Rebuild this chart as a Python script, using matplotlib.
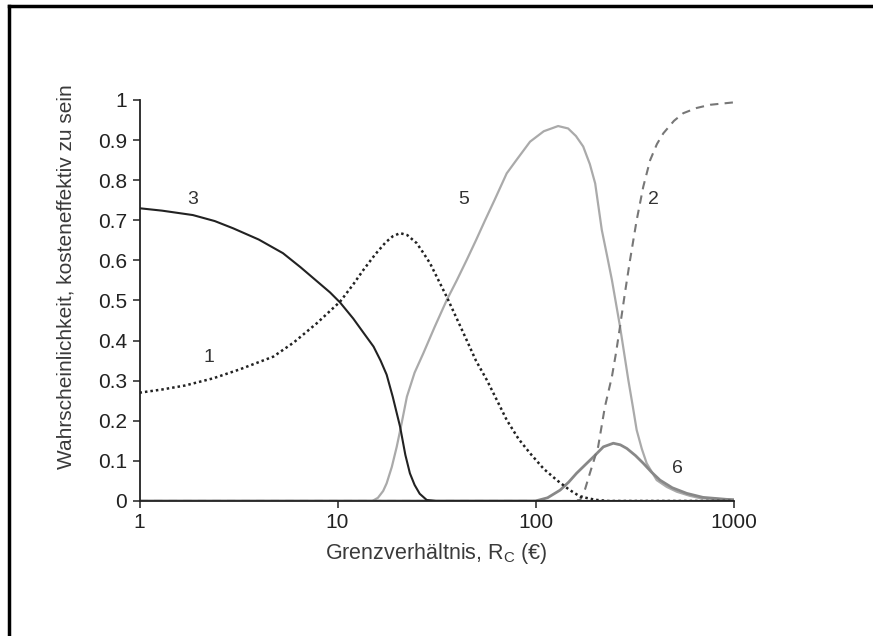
import numpy as np
import matplotlib.pyplot as plt

plt.rcParams['font.family'] = ['Liberation Sans', 'DejaVu Sans']

# curve 3 (black solid)
x3 = [1, 1.3, 1.86, 2.4, 2.97, 4, 5.3, 6.5, 8, 9.17, 10.3, 12, 13.5, 15.2, 16.5, 17.7,
      19, 20.7, 22, 23.2, 24.5, 26, 28.2, 31.4, 1000]
y3 = [0.73, 0.724, 0.713, 0.698, 0.68, 0.652, 0.618, 0.583, 0.545, 0.52, 0.495, 0.455, 0.42,
      0.385, 0.35, 0.315, 0.26, 0.185, 0.115, 0.069, 0.04, 0.018, 0.0025, 0, 0]

# curve 1 (black dotted)
x1 = [1, 1.3, 1.7, 2.36, 3.2, 4.74, 6, 7.85, 10.3, 12, 13.5, 15.5, 17.5, 19, 20.7, 22.5,
      25.1, 27, 29.3, 32, 35.6, 40, 44.9, 50, 56.7, 64, 71.5, 82, 93.8, 110, 128, 148,
      168, 200, 232, 1000]
y1 = [0.27, 0.278, 0.288, 0.306, 0.328, 0.36, 0.395, 0.443, 0.497, 0.54, 0.576, 0.615, 0.645,
      0.66, 0.668, 0.663, 0.643, 0.62, 0.593, 0.555, 0.509, 0.455, 0.401, 0.35, 0.302, 0.25,
      0.202, 0.155, 0.119, 0.08, 0.052, 0.028, 0.011, 0.003, 0, 0]

# curve 5 (light grey solid)
x5 = [1, 15, 16, 17, 17.7, 18.8, 19.9, 21, 22.4, 24.5, 27.1, 31, 35.6, 40, 44.9, 50, 55.6,
      62, 71.5, 80, 93.8, 110, 130, 146, 160, 174, 188, 200, 216, 230, 243, 267, 294, 310,
      324, 344, 364, 409, 460, 517, 600, 678, 1000]
y5 = [0, 0, 0.008, 0.025, 0.044, 0.085, 0.135, 0.19, 0.26, 0.32, 0.368, 0.435, 0.501, 0.55,
      0.601, 0.65, 0.70, 0.75, 0.817, 0.85, 0.896, 0.922, 0.935, 0.929, 0.91, 0.884, 0.84,
      0.792, 0.676, 0.61, 0.551, 0.435, 0.302, 0.235, 0.177, 0.13, 0.094, 0.052, 0.035,
      0.023, 0.013, 0.007, 0.003]

# curve 2 (grey dashed)
x2 = [1, 150, 168, 178, 188, 207, 224, 243, 255, 267, 283, 300, 324, 350, 379, 410, 442,
      500, 557, 650, 761, 1000]
y2 = [0, 0, 0.0025, 0.03, 0.069, 0.135, 0.235, 0.31, 0.37, 0.435, 0.52, 0.601, 0.70, 0.784,
      0.85, 0.89, 0.917, 0.948, 0.967, 0.98, 0.988, 0.994]

# curve 6 (mid grey solid)
x6 = [1, 100, 115, 133, 147, 161, 178, 196, 220, 247, 268, 289, 320, 350, 385, 425, 490,
      580, 700, 924, 1000]
y6 = [0, 0, 0.008, 0.027, 0.047, 0.069, 0.09, 0.11, 0.135, 0.144, 0.14, 0.131, 0.113, 0.094,
      0.072, 0.052, 0.033, 0.019, 0.009, 0.004, 0.003]

# curve labels
lab_text = ['3', '1', '5', '2', '6']
lab_x = [1.86, 2.24, 43.1, 392, 518]
lab_y = [0.753, 0.359, 0.753, 0.753, 0.082]

fig = plt.figure(figsize=(8.73, 6.36), dpi=100)
ax = fig.add_axes([0.1598, 0.2123, 0.6805, 0.6305])

ax.plot(x5, y5, color='#aaaaaa', lw=1.6)
ax.plot(x6, y6, color='#888888', lw=2.0)
ax.plot(x2, y2, color='#777777', lw=1.5, ls=(0, (4, 3)))
ax.plot(x1, y1, color='#222222', lw=1.8, ls=(0, (1, 1.2)))
ax.plot(x3, y3, color='#222222', lw=1.5)

for t, x, y in zip(lab_text, lab_x, lab_y):
    ax.text(x, y, t, ha='center', va='center', fontsize=14, color='#333333')

ax.set_xscale('log')
ax.set_xlim(1, 1000)
ax.set_ylim(0, 1)
ax.set_xticks([1, 10, 100, 1000])
ax.set_xticklabels(['1', '10', '100', '1000'])
ax.minorticks_off()
ax.set_yticks(np.arange(0, 1.01, 0.1))
ax.set_yticklabels(['0', '0.1', '0.2', '0.3', '0.4', '0.5', '0.6', '0.7', '0.8', '0.9', '1'])

for s in ['top', 'right']:
    ax.spines[s].set_visible(False)
for s in ['left', 'bottom']:
    ax.spines[s].set_linewidth(1.3)
    ax.spines[s].set_color('#222222')
ax.tick_params(direction='out', length=5, width=1.1, labelsize=15, colors='#222222',
               labelcolor='#222222', pad=4)

ax.set_xlabel('Grenzverhältnis, R$_\\mathregular{C}$ (€)', fontsize=15.5, color='#3a3a3a', labelpad=6)
ax.set_ylabel('Wahrscheinlichkeit, kosteneffektiv zu sein', fontsize=15, color='#3a3a3a')
ax.yaxis.set_label_coords(-0.108, 0.56)

# frame around the picture (top and left edges only, as cropped)
fig.add_artist(plt.Line2D([8.5 / 873, 1], [1 - 6 / 636, 1 - 6 / 636], color='black', lw=2.5,
                          transform=fig.transFigure))
fig.add_artist(plt.Line2D([8.5 / 873, 8.5 / 873], [0, 1 - 6 / 636], color='black', lw=2.5,
                          transform=fig.transFigure))

fig.savefig('out.png', dpi=100)
